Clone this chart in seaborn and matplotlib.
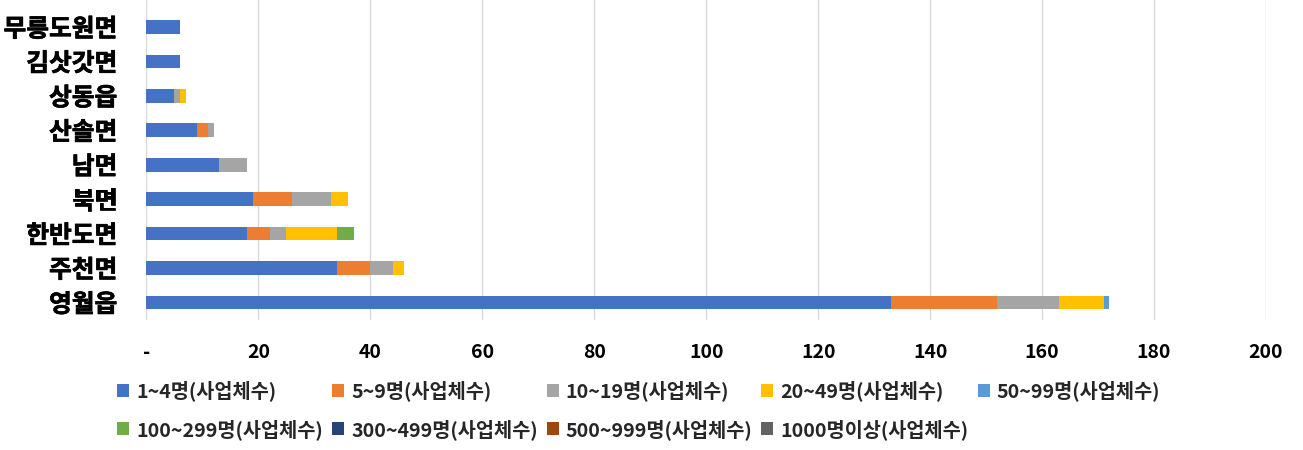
import numpy as np
import pandas as pd
import matplotlib
matplotlib.use("Agg")
import matplotlib.pyplot as plt
import matplotlib.patheffects as pe
from matplotlib.patches import Patch
import seaborn as sns

# Number of businesses by workforce size, per town (읍/면)
regions = ["무릉도원면", "김삿갓면", "상동읍", "산솔면", "남면", "북면", "한반도면", "주천면", "영월읍"]
size_classes = ["1~4명(사업체수)", "5~9명(사업체수)", "10~19명(사업체수)", "20~49명(사업체수)",
                "50~99명(사업체수)", "100~299명(사업체수)", "300~499명(사업체수)",
                "500~999명(사업체수)", "1000명이상(사업체수)"]
s_1_4 = [6, 6, 5, 9, 13, 19, 18, 34, 133]
s_5_9 = [0, 0, 0, 2, 0, 7, 4, 6, 19]
s_10_19 = [0, 0, 1, 1, 5, 7, 3, 4, 11]
s_20_49 = [0, 0, 1, 0, 0, 3, 9, 2, 8]
s_50_99 = [0, 0, 0, 0, 0, 0, 0, 0, 1]
s_100_299 = [0, 0, 0, 0, 0, 0, 3, 0, 0]
s_300_499 = [0, 0, 0, 0, 0, 0, 0, 0, 0]
s_500_999 = [0, 0, 0, 0, 0, 0, 0, 0, 0]
s_1000 = [0, 0, 0, 0, 0, 0, 0, 0, 0]
x_ticks = [0, 20, 40, 60, 80, 100, 120, 140, 160, 180, 200]
x_ticklabels = ["-", "20", "40", "60", "80", "100", "120", "140", "160", "180", "200"]

colors = ["#4472C4", "#ED7D31", "#A5A5A5", "#FFC000", "#5B9BD5",
          "#70AD47", "#264478", "#9E480E", "#636363"]

series = [s_1_4, s_5_9, s_10_19, s_20_49, s_50_99, s_100_299, s_300_499, s_500_999, s_1000]
df = pd.DataFrame(np.array(series).T, index=regions, columns=size_classes)
cum = df.cumsum(axis=1)

sns.set_theme(style="white")
plt.rcParams["font.family"] = ["Noto Sans CJK KR", "DejaVu Sans"]
plt.rcParams["font.weight"] = "bold"

fig = plt.figure(figsize=(13.03, 4.5), dpi=100)
ax = fig.add_axes([0.1124, 0.2896, 0.8592, 0.7104])

# Stacked bars: draw cumulative totals from the outermost segment inwards
for col, color in reversed(list(zip(size_classes, colors))):
    sns.barplot(x=cum[col].values, y=regions, order=regions, orient="h",
                color=color, width=0.4, saturation=1, ax=ax, edgecolor="none")

ax.set_xlim(0, 200)
ax.set_ylim(8.5, -0.785)
ax.set_xticks(x_ticks)
ax.set_xticklabels(x_ticklabels, fontsize=14, fontweight="bold", color="black")
ax.tick_params(axis="x", length=0, pad=17)
ax.tick_params(axis="y", length=0, pad=21, labelsize=17.8, labelcolor="black")
heavy = [pe.withStroke(linewidth=0.5, foreground="black")]
for lbl in ax.get_yticklabels():
    lbl.set_fontweight("bold")
    lbl.set_path_effects(heavy)
ax.set_xlabel("")
ax.set_ylabel("")
ax.grid(axis="x", color="#D9D9D9", linewidth=1)
ax.set_axisbelow(True)
for sp in ax.spines.values():
    sp.set_visible(False)

handles = [Patch(facecolor=c, edgecolor="none") for c in colors]
# row-major arrangement across 5 columns
order = [0, 5, 1, 6, 2, 7, 3, 8, 4]
leg = fig.legend([handles[i] for i in order], [size_classes[i] for i in order],
                 ncol=5, loc="upper left", bbox_to_anchor=(0.090, 0.155),
                 frameon=False, borderpad=0, borderaxespad=0,
                 handlelength=0.61, handleheight=0.61,
                 handletextpad=0.36, columnspacing=0.45, labelspacing=0.9,
                 prop={"size": 14.2, "weight": "bold"})

fig.savefig("out.png", dpi=100)
